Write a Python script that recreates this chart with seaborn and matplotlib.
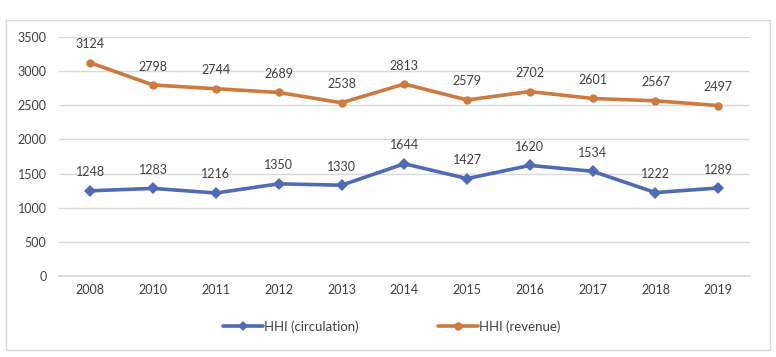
import matplotlib
matplotlib.use("Agg")
import matplotlib.pyplot as plt
import seaborn as sns
import pandas as pd
from matplotlib.patches import Rectangle
from matplotlib.lines import Line2D

years = ["2008", "2010", "2011", "2012", "2013", "2014", "2015", "2016", "2017", "2018", "2019"]
hhi_circulation = [1248, 1283, 1216, 1350, 1330, 1644, 1427, 1620, 1534, 1222, 1289]
hhi_revenue = [3124, 2798, 2744, 2689, 2538, 2813, 2579, 2702, 2601, 2567, 2497]

sns.set_theme(style="white")
plt.rcParams['font.family'] = ['Lato', 'DejaVu Sans']

blue = "#4F6BB6"
orange = "#CC7A3E"
txt = "#404040"

pos = list(range(len(years)))
df = pd.DataFrame({"pos": pos * 2,
                   "value": hhi_circulation + hhi_revenue,
                   "series": ["HHI (circulation)"] * len(years) + ["HHI (revenue)"] * len(years)})

fig = plt.figure(figsize=(7.76, 3.57), dpi=100)
ax = fig.add_axes([0.076, 0.227, 0.890, 0.669])

sns.lineplot(data=df, x="pos", y="value", hue="series", style="series",
             palette={"HHI (circulation)": blue, "HHI (revenue)": orange},
             markers={"HHI (circulation)": "D", "HHI (revenue)": "o"},
             dashes=False, linewidth=2.6, markersize=6, markeredgewidth=0,
             ax=ax, legend=False)

for i, v in enumerate(hhi_circulation):
    ax.annotate(str(v), (i, v), xytext=(0, 9), textcoords="offset points",
                ha="center", va="bottom", fontsize=9, color=txt)
for i, v in enumerate(hhi_revenue):
    ax.annotate(str(v), (i, v), xytext=(0, 9), textcoords="offset points",
                ha="center", va="bottom", fontsize=9, color=txt)

ax.set_xlim(-0.5, len(years) - 0.5)
ax.set_ylim(0, 3500)
ax.set_yticks(range(0, 3501, 500))
ax.set_xticks(pos)
ax.set_xticklabels(years)
ax.tick_params(axis="both", labelsize=9, colors=txt, length=0, pad=6)
ax.tick_params(axis="y", pad=9)
ax.yaxis.grid(True, color="#D9D9D9", linewidth=1)
ax.set_axisbelow(True)
for s in ["top", "right", "left"]:
    ax.spines[s].set_visible(False)
ax.spines["bottom"].set_color("#D9D9D9")
ax.set_xlabel("")
ax.set_ylabel("")

handles = [Line2D([0], [0], color=blue, lw=2.6, marker="D", markersize=5, markeredgewidth=0),
           Line2D([0], [0], color=orange, lw=2.6, marker="o", markersize=6, markeredgewidth=0)]
fig.legend(handles, ["HHI (circulation)", "HHI (revenue)"], loc="center",
           bbox_to_anchor=(0.505, 0.085), ncol=2, frameon=False, fontsize=9.5,
           handlelength=3, handletextpad=0.1, columnspacing=6, labelcolor=txt)

fig.patches.append(Rectangle((6 / 776, 1 - 350 / 357), 764 / 776, 330 / 357,
                             transform=fig.transFigure, fill=False,
                             edgecolor="#D9D9D9", linewidth=1))

fig.savefig("out.png", dpi=100, facecolor="white")
